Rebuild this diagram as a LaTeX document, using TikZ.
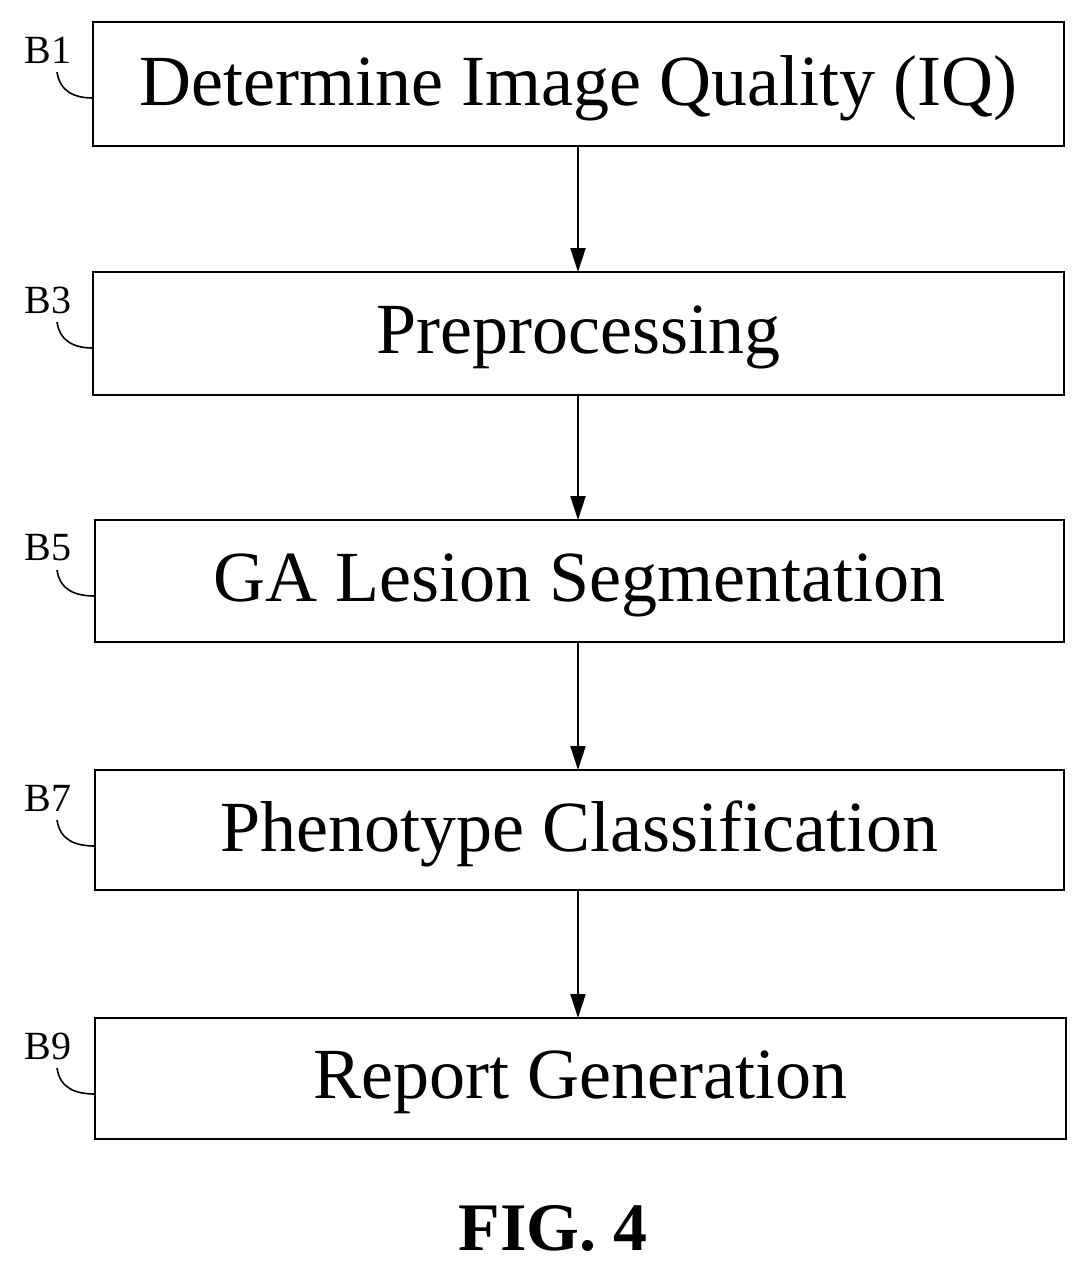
\documentclass[tikz,border=0pt]{standalone}
\usepackage{fontspec}
\setmainfont{Liberation Serif}
\usetikzlibrary{arrows.meta}
\begin{document}
\begin{tikzpicture}[x=1pt,y=-1pt,
  box/.style={draw,line width=2pt,inner sep=0pt},
  txt/.style={font=\fontsize{72}{72}\selectfont},
  lab/.style={font=\fontsize{40}{40}\selectfont,inner sep=0pt},
  arr/.style={-{Triangle[length=24pt,width=15pt]},line width=2pt},
  lead/.style={line width=1.6pt}]
\useasboundingbox (0,0) rectangle (1089,1274);
\foreach \n/\t/\b/\l/\r/\s in {1/22/146/93/1064/Determine Image Quality (IQ),3/272/395/93/1064/Preprocessing,5/520/642/95/1064/GA Lesion Segmentation,7/770/890/95/1064/Phenotype Classification,9/1018/1139/95/1066/Report Generation}{
  \draw[box] (\l,\t) rectangle (\r,\b);
  \node[txt] (b\n) at ({(\l+\r)/2},{(\t+\b)/2+4}) {\s};
  \node[lab] (l\n) at (48,{\t+28}) {B\n};
  \coordinate (e\n) at (\l,{\t+76});
  \draw[lead] ({57},{\t+50}) .. controls (60,{\t+70}) and (75,{\t+76}) .. (e\n);
}
\foreach \a/\b/\c in {146/272/1,395/520/3,642/770/5,890/1018/7}{
  \coordinate (s\c) at (578,\a); \coordinate (t\c) at (578,\b);
  \draw[arr] (s\c) -- (t\c);
}
\node[font=\bfseries\fontsize{68}{68}\selectfont] (fig) at (553,1228) {FIG. 4};
\end{tikzpicture}
\end{document}
